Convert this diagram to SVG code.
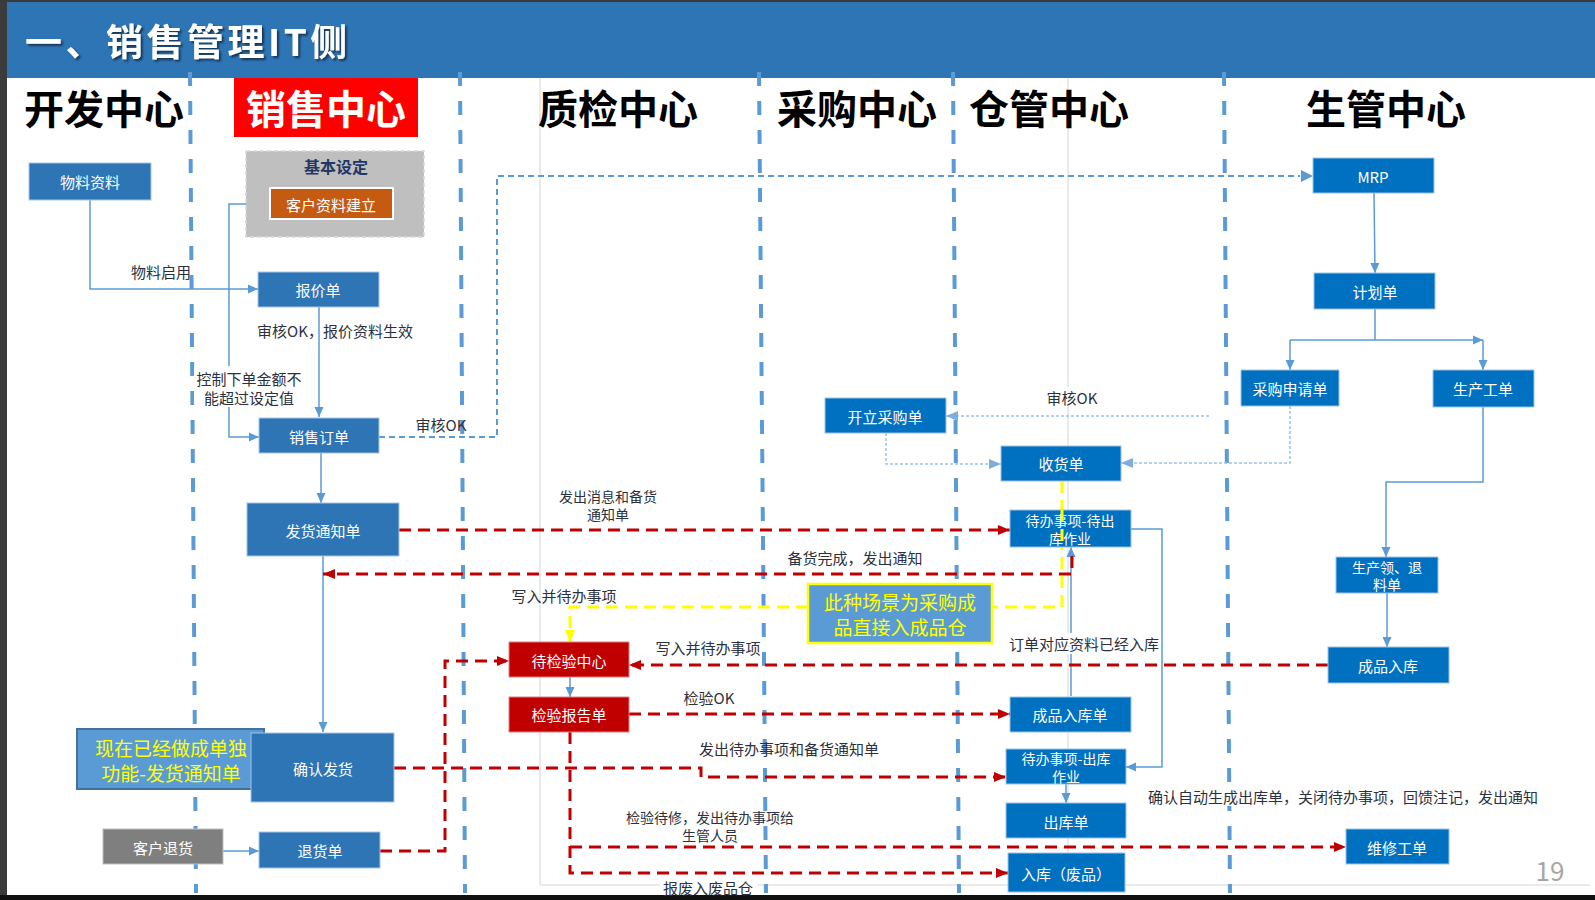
<svg xmlns="http://www.w3.org/2000/svg" width="1595" height="900" viewBox="0 0 1595 900">
<defs>
<style>
text{font-family:"Noto Sans CJK SC","Noto Sans",sans-serif;}
.nt{fill:#fff;font-size:15px;text-anchor:middle;dominant-baseline:central;}
.lb{fill:#2b3140;font-size:15px;text-anchor:middle;dominant-baseline:central;}
.two{font-size:14px;}
.lane{fill:#000;font-size:40px;font-weight:700;text-anchor:middle;}
.nb{fill:#2E75B6;stroke:#A7C4E5;stroke-width:1;}
.nc{fill:#0070C0;stroke:#9CC3E8;stroke-width:1;}
.nr{fill:#C00000;stroke:#E08080;stroke-width:1;}
.note{font-size:19px;fill:#FFFF00;text-anchor:middle;dominant-baseline:central;}
.div{stroke:#5B9BD5;stroke-width:4;stroke-dasharray:14 15;fill:none;}
.grid{stroke:#E3E3E3;stroke-width:1.5;fill:none;}
.sb{stroke:#5B9BD5;stroke-width:1.5;fill:none;marker-end:url(#ab);}
.db{stroke:#5B9BD5;stroke-width:2;stroke-dasharray:6 4;fill:none;}
.dt{stroke:#9DC3E6;stroke-width:1.5;stroke-dasharray:3 2;fill:none;marker-end:url(#at);}
.rd{stroke:#C00000;stroke-width:3;stroke-dasharray:12 7;fill:none;marker-end:url(#ar);}
.yd{stroke:#FFFF00;stroke-width:3;stroke-dasharray:12 7;fill:none;marker-end:url(#ay);}
.bg{fill:#fff;}
</style>
<marker id="ab" markerWidth="10" markerHeight="10" refX="10" refY="5" orient="auto" markerUnits="userSpaceOnUse"><path d="M0,0.5 L10,5 L0,9.5 z" fill="#5B9BD5"/></marker>
<marker id="at" markerWidth="12" markerHeight="12" refX="12" refY="6" orient="auto" markerUnits="userSpaceOnUse"><path d="M0,1 L12,6 L0,11 z" fill="#7EADDD"/></marker>
<marker id="ar" markerWidth="12" markerHeight="12" refX="12" refY="6" orient="auto" markerUnits="userSpaceOnUse"><path d="M0,1 L12,6 L0,11 z" fill="#C00000"/></marker>
<marker id="ay" markerWidth="12" markerHeight="12" refX="12" refY="6" orient="auto" markerUnits="userSpaceOnUse"><path d="M0,1 L12,6 L0,11 z" fill="#FFFF00"/></marker>
<filter id="shadow" x="-5%" y="-20%" width="110%" height="150%"><feDropShadow dx="2" dy="2" stdDeviation="1" flood-color="#000" flood-opacity="0.55"/></filter>
</defs>

<!-- page frame -->
<rect x="0" y="0" width="1595" height="900" fill="#fff"/>
<rect x="0" y="0" width="1595" height="2" fill="#3B3B3B"/>
<rect x="0" y="0" width="7" height="900" fill="#3B3B3B"/>
<rect x="0" y="895" width="1595" height="5" fill="#111"/>

<!-- title banner -->
<g id="banner">
<rect x="7" y="2" width="1588" height="76" fill="#2E75B6"/>
<text x="25" y="56" font-size="37" font-weight="700" fill="#fff" letter-spacing="3.5" filter="url(#shadow)">一、销售管理IT侧</text>
</g>

<!-- faint table grid -->
<g id="grid">
<path class="grid" d="M540 78 V885 M1068 78 V885 M540 885 H1590"/>
</g>

<!-- lane separators and headings -->
<g id="lanes">
<line class="div" x1="190" y1="72" x2="196" y2="893"/>
<line class="div" x1="460" y1="72" x2="465" y2="893"/>
<line class="div" x1="759" y1="72" x2="766" y2="893"/>
<line class="div" x1="953" y1="72" x2="959" y2="893"/>
<line class="div" x1="1224" y1="72" x2="1230" y2="893"/>
<rect x="234" y="78" width="184" height="59" fill="#FF0000"/>
<text class="lane" x="104" y="124">开发中心</text>
<text class="lane" x="326" y="124" style="fill:#fff">销售中心</text>
<text class="lane" x="618" y="124">质检中心</text>
<text class="lane" x="857" y="124">采购中心</text>
<text class="lane" x="1049" y="124">仓管中心</text>
<text class="lane" x="1386" y="124">生管中心</text>
</g>

<!-- connectors -->
<g id="connectors">
<!-- solid flow -->
<path class="sb" d="M90 200 V289 H258"/>
<path class="sb" d="M270 204 H229 V437 H259"/>
<path class="sb" d="M319 307 V417"/>
<path class="sb" d="M321 453 V503"/>
<path class="sb" d="M323 556 V732"/>
<path class="sb" d="M223 851 H259"/>
<path class="sb" d="M570 677 V697"/>
<path class="sb" d="M1374 193 L1375 273"/>
<path class="sb" d="M1375 309 V340 M1290 340 H1483"/>
<path class="sb" d="M1290 340 V370"/>
<path class="sb" d="M1483 340 V370"/>
<path class="sb" d="M1483 407 V482 H1386 V557"/>
<path class="sb" d="M1387 593 V647"/>
<path class="sb" d="M1131 529 H1162 V767 H1126"/>
<path class="sb" d="M1071 696 V547"/>
<path class="sb" d="M1066 784 V803"/>
<!-- approval link to MRP -->
<path class="db" d="M379 437 H497 V176 H1300"/>
<path d="M1301 170 L1313 176 L1301 182 z" fill="#5B9BD5"/>
<!-- purchasing dotted -->
<path class="dt" d="M1209 416 H946"/>
<path class="dt" d="M886 433 V464 H1001"/>
<path class="dt" d="M1290 406 V463 H1121"/>
<!-- red dashed messages -->
<path class="rd" d="M399 530 H1010"/>
<path class="rd" d="M1072 556 V574 H323"/>
<path class="rd" d="M1328 665 H629"/>
<path class="rd" d="M629 714 H1010"/>
<path class="rd" d="M394 768 H701 V777 H1006"/>
<path class="rd" d="M380 851 H445 V661 H509"/>
<path class="rd" d="M570 732 V873 H1008"/>
<path class="rd" d="M570 847 H1346"/>
<!-- yellow dashed direct path -->
<path class="yd" d="M1062 481 V607 H570 V642"/>
</g>

<!-- labels -->
<g id="labels">
<text class="lb" x="161" y="271">物料启用</text>
<text class="lb" x="335" y="330">审核OK，报价资料生效</text>
<rect class="bg" x="194" y="366" width="110" height="41"/>
<text class="lb" x="249" y="378">控制下单金额不<tspan x="249" dy="19">能超过设定值</tspan></text>
<text class="lb" x="441" y="424">审核OK</text>
<rect class="bg" x="1046" y="387" width="52" height="20"/>
<text class="lb" x="1072" y="397">审核OK</text>
<text class="lb two" x="608" y="496">发出消息和备货<tspan x="608" dy="17.5">通知单</tspan></text>
<text class="lb" x="855" y="557">备货完成，发出通知</text>
<text class="lb" x="564" y="595">写入并待办事项</text>
<text class="lb" x="708" y="647">写入并待办事项</text>
<text class="lb" x="709" y="697">检验OK</text>
<text class="lb" x="789" y="748">发出待办事项和备货通知单</text>
<text class="lb two" x="710" y="817">检验待修，发出待办事项给<tspan x="710" dy="17.5">生管人员</tspan></text>
<rect class="bg" x="660" y="878" width="98" height="17"/>
<text class="lb" x="708" y="887">报废入废品仓</text>
<rect class="bg" x="1008" y="633" width="152" height="21"/>
<text class="lb" x="1084" y="643">订单对应资料已经入库</text>
<rect class="bg" x="1148" y="786" width="392" height="20"/>
<text class="lb" x="1343" y="796">确认自动生成出库单，关闭待办事项，回馈注记，发出通知</text>
<text x="1550" y="881" font-size="26" fill="#A6A6A6" text-anchor="middle">19</text>
</g>

<!-- 开发中心 -->
<g id="n-material"><rect class="nb" x="29" y="163" width="122" height="37"/><text class="nt" x="90" y="181">物料资料</text></g>

<!-- 销售中心 -->
<g id="n-basic">
<rect x="246" y="151" width="178" height="86" fill="#BFBFBF" stroke="#D9D9D9" stroke-width="1.5" stroke-dasharray="4 3"/>
<text x="336" y="166" font-size="16" font-weight="700" fill="#1F3864" text-anchor="middle" dominant-baseline="central">基本设定</text>
</g>
<g id="n-customer"><rect x="270" y="188" width="123" height="31" fill="#C55A11" stroke="#fff" stroke-width="2"/><text class="nt" x="331" y="204">客户资料建立</text></g>
<g id="n-quote"><rect class="nb" x="258" y="272" width="121" height="35"/><text class="nt" x="318" y="289">报价单</text></g>
<g id="n-order"><rect class="nb" x="259" y="418" width="120" height="35"/><text class="nt" x="319" y="436">销售订单</text></g>
<g id="n-notice"><rect class="nb" x="247" y="503" width="152" height="53"/><text class="nt" x="323" y="530">发货通知单</text></g>
<g id="n-memo">
<rect x="77" y="729" width="187" height="60" fill="#5B9BD5" stroke="#41719C" stroke-width="2"/>
<text class="note" x="171" y="747">现在已经做成单独<tspan x="171" dy="25">功能-发货通知单</tspan></text>
</g>
<g id="n-confirm"><rect class="nb" x="251" y="733" width="143" height="69"/><text class="nt" x="323" y="768">确认发货</text></g>
<g id="n-return-req"><rect x="103" y="829" width="120" height="35" fill="#7F7F7F" stroke="#BFBFBF" stroke-width="1"/><text class="nt" x="163" y="847">客户退货</text></g>
<g id="n-return"><rect class="nb" x="259" y="832" width="121" height="36"/><text class="nt" x="320" y="850">退货单</text></g>

<!-- 质检中心 -->
<g id="n-pending-qc"><rect class="nr" x="509" y="642" width="120" height="35"/><text class="nt" x="569" y="660">待检验中心</text></g>
<g id="n-qc-report"><rect class="nr" x="509" y="697" width="120" height="35"/><text class="nt" x="569" y="714">检验报告单</text></g>

<!-- 采购中心 -->
<g id="n-po"><rect class="nc" x="825" y="398" width="121" height="35"/><text class="nt" x="885" y="416">开立采购单</text></g>

<!-- 仓管中心 -->
<g id="n-receipt"><rect class="nc" x="1001" y="446" width="120" height="35"/><text class="nt" x="1061" y="463">收货单</text></g>
<g id="n-todo-out"><rect class="nc" x="1010" y="510" width="121" height="37"/><text class="nt two" x="1070" y="519.5">待办事项-待出<tspan x="1070" dy="18">库作业</tspan></text></g>
<g id="n-fg-in"><rect class="nc" x="1010" y="697" width="121" height="35"/><text class="nt" x="1070" y="714">成品入库单</text></g>
<g id="n-todo-ship"><rect class="nc" x="1006" y="749" width="120" height="35"/><text class="nt two" x="1066" y="757.5">待办事项-出库<tspan x="1066" dy="18">作业</tspan></text></g>
<g id="n-outbound"><rect class="nc" x="1006" y="803" width="120" height="35"/><text class="nt" x="1066" y="821">出库单</text></g>
<g id="n-scrap"><rect class="nc" x="1008" y="853" width="117" height="39"/><text class="nt" x="1066" y="873">入库（废品）</text></g>

<!-- yellow remark over the direct path -->
<g id="n-remark">
<rect x="808" y="584" width="184" height="59" fill="#5B9BD5" stroke="#FFFF00" stroke-width="2.5"/>
<text class="note" x="900" y="601">此种场景为采购成<tspan x="900" dy="25">品直接入成品仓</tspan></text>
</g>

<!-- 生管中心 -->
<g id="n-mrp"><rect class="nc" x="1313" y="158" width="121" height="35"/><text class="nt" x="1373" y="176">MRP</text></g>
<g id="n-plan"><rect class="nc" x="1314" y="273" width="121" height="36"/><text class="nt" x="1375" y="291">计划单</text></g>
<g id="n-pr"><rect class="nc" x="1241" y="370" width="98" height="36"/><text class="nt" x="1290" y="388">采购申请单</text></g>
<g id="n-wo"><rect class="nc" x="1433" y="370" width="101" height="37"/><text class="nt" x="1483" y="388">生产工单</text></g>
<g id="n-issue"><rect class="nc" x="1336" y="557" width="102" height="36"/><text class="nt two" x="1387" y="566.5">生产领、退<tspan x="1387" dy="17.5">料单</tspan></text></g>
<g id="n-fg"><rect class="nc" x="1328" y="647" width="121" height="36"/><text class="nt" x="1388" y="665">成品入库</text></g>
<g id="n-repair"><rect class="nc" x="1346" y="829" width="103" height="35"/><text class="nt" x="1397" y="847">维修工单</text></g>

<!-- yellow path drawn over the warehouse task box -->
<path d="M1062 510 V547" stroke="#FFFF00" stroke-width="3" stroke-dasharray="12 7" fill="none"/>
</svg>
